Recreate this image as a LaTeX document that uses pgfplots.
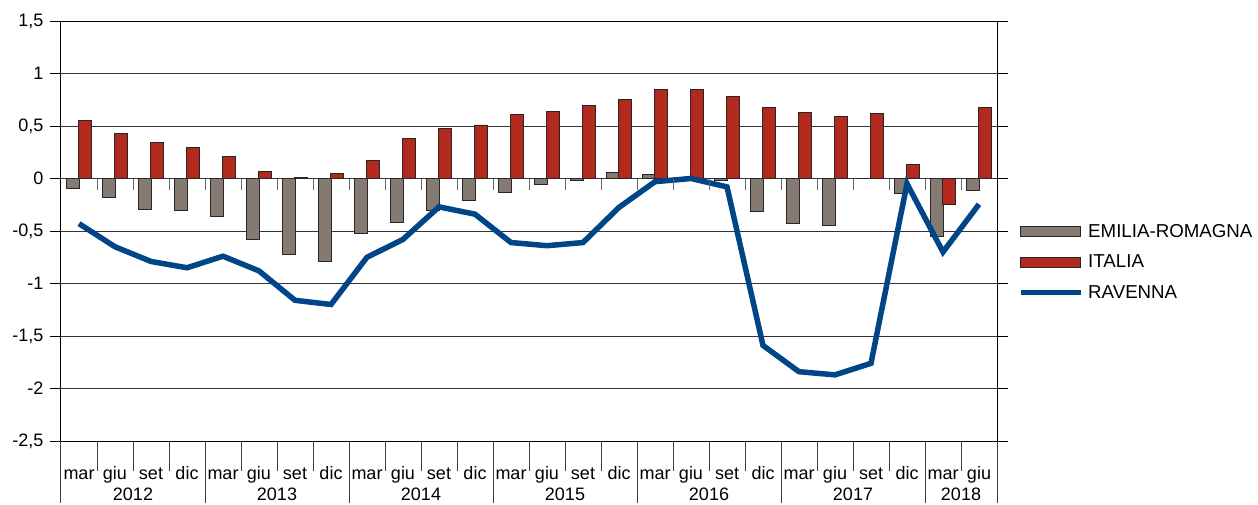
\documentclass[border=0pt]{standalone}
\usepackage{fontspec}
\setmainfont{Liberation Sans}
\usepackage{pgfplots}
\pgfplotsset{compat=1.18}
\definecolor{er}{RGB}{132,122,113}
\definecolor{it}{RGB}{178,42,30}
\definecolor{rav}{RGB}{0,69,134}
\pgfplotsset{
  barleg/.style={legend image code/.code={\draw[##1] (0pt,-5pt) rectangle (60pt,5pt);}},
  lineleg/.style={legend image code/.code={\draw[##1] (0pt,0pt) -- (60pt,0pt);}},
}
\begin{document}
\begin{tikzpicture}[x=1pt,y=1pt]
\useasboundingbox (0,0) rectangle (1258,504);
\begin{axis}[
  at={(61pt,63pt)}, anchor=south west,
  scale only axis, width=936pt, height=420pt,
  xmin=-0.5, xmax=25.5, ymin=-2.5, ymax=1.5,
  clip=false,
  font=\fontsize{18}{21}\selectfont,
  axis line style={black, line width=1pt},
  ytick={-2.5,-2,-1.5,-1,-0.5,0,0.5,1,1.5},
  yticklabels={{-2,5},{-2},{-1,5},{-1},{-0,5},{0},{0,5},{1},{1,5}},
  ymajorgrids, major grid style={black!80, line width=0.9pt},
  tick align=outside, major tick length=11pt,
  y tick style={black, line width=1pt},
  yticklabel style={font=\fontsize{18}{21}\selectfont, xshift=-3pt},
  xtick={0,...,25},
  xticklabels={mar,giu,set,dic,mar,giu,set,dic,mar,giu,set,dic,mar,giu,set,dic,mar,giu,set,dic,mar,giu,set,dic,mar,giu},
  x tick style={draw=none},
  xticklabel style={font=\fontsize{18}{21}\selectfont, anchor=base, yshift=-27pt},
  extra x ticks={1.5,5.5,9.5,13.5,17.5,21.5,24.5},
  extra x tick labels={2012,2013,2014,2015,2016,2017,2018},
  extra x tick style={grid=none, tick style={draw=none}, xticklabel style={yshift=-21pt}},
  legend style={at={(axis description cs:1,0.426)}, anchor=west, xshift=18pt,
    draw=none, fill=none, row sep=12pt, column sep=3pt, font=\fontsize{18.7}{21}\selectfont},
  legend cell align=left,
]
\addplot[ybar, bar width=12.3pt, bar shift=-6pt, fill=er, draw=black!85, line width=0.8pt, forget plot] coordinates {
(0,-0.09) (1,-0.18) (2,-0.29) (3,-0.30) (4,-0.365) (5,-0.58) (6,-0.72) (7,-0.79)
(8,-0.52) (9,-0.42) (10,-0.30) (11,-0.21) (12,-0.13) (13,-0.06) (14,-0.02) (15,0.06)
(16,0.04) (17,0.0) (18,-0.02) (19,-0.31) (20,-0.43) (21,-0.45) (22,0.0) (23,-0.14)
(24,-0.555) (25,-0.11)};
\addplot[ybar, bar width=12.3pt, bar shift=6pt, fill=it, draw=black!85, line width=0.8pt, forget plot] coordinates {
(0,0.55) (1,0.43) (2,0.34) (3,0.30) (4,0.21) (5,0.07) (6,0.01) (7,0.05)
(8,0.17) (9,0.38) (10,0.475) (11,0.51) (12,0.61) (13,0.64) (14,0.70) (15,0.75)
(16,0.85) (17,0.85) (18,0.78) (19,0.68) (20,0.63) (21,0.59) (22,0.62) (23,0.13)
(24,-0.25) (25,0.68)};
\addplot[rav, line width=5.5pt, forget plot] coordinates {
(0,-0.43) (1,-0.65) (2,-0.79) (3,-0.85) (4,-0.74) (5,-0.88) (6,-1.16) (7,-1.20)
(8,-0.75) (9,-0.58) (10,-0.27) (11,-0.34) (12,-0.61) (13,-0.64) (14,-0.61) (15,-0.275)
(16,-0.03) (17,0.0) (18,-0.08) (19,-1.59) (20,-1.84) (21,-1.87) (22,-1.76) (23,-0.05)
(24,-0.70) (25,-0.245)};
\addlegendimage{barleg, fill=er, draw=black!85, line width=0.8pt}
\addlegendentry{EMILIA-ROMAGNA}
\addlegendimage{barleg, fill=it, draw=black!85, line width=0.8pt}
\addlegendentry{ITALIA}
\addlegendimage{lineleg, rav, line width=5pt}
\addlegendentry{RAVENNA}
\pgfplotsinvokeforeach{0,...,24}{\draw[black!60, line width=1pt] (axis cs:#1.5,0) -- ++(0pt,-11pt);}
\pgfplotsinvokeforeach{0,1,2,4,5,6,8,9,10,12,13,14,16,17,18,20,21,22,24}{\draw[black!75, line width=1pt] (axis cs:#1.5,-2.5) -- ++(0pt,-30pt);}
\pgfplotsinvokeforeach{-0.5,3.5,7.5,11.5,15.5,19.5,23.5,25.5}{\draw[black!75, line width=1pt] (axis cs:#1,-2.5) -- ++(0pt,-62pt);}
\end{axis}
\end{tikzpicture}
\end{document}
